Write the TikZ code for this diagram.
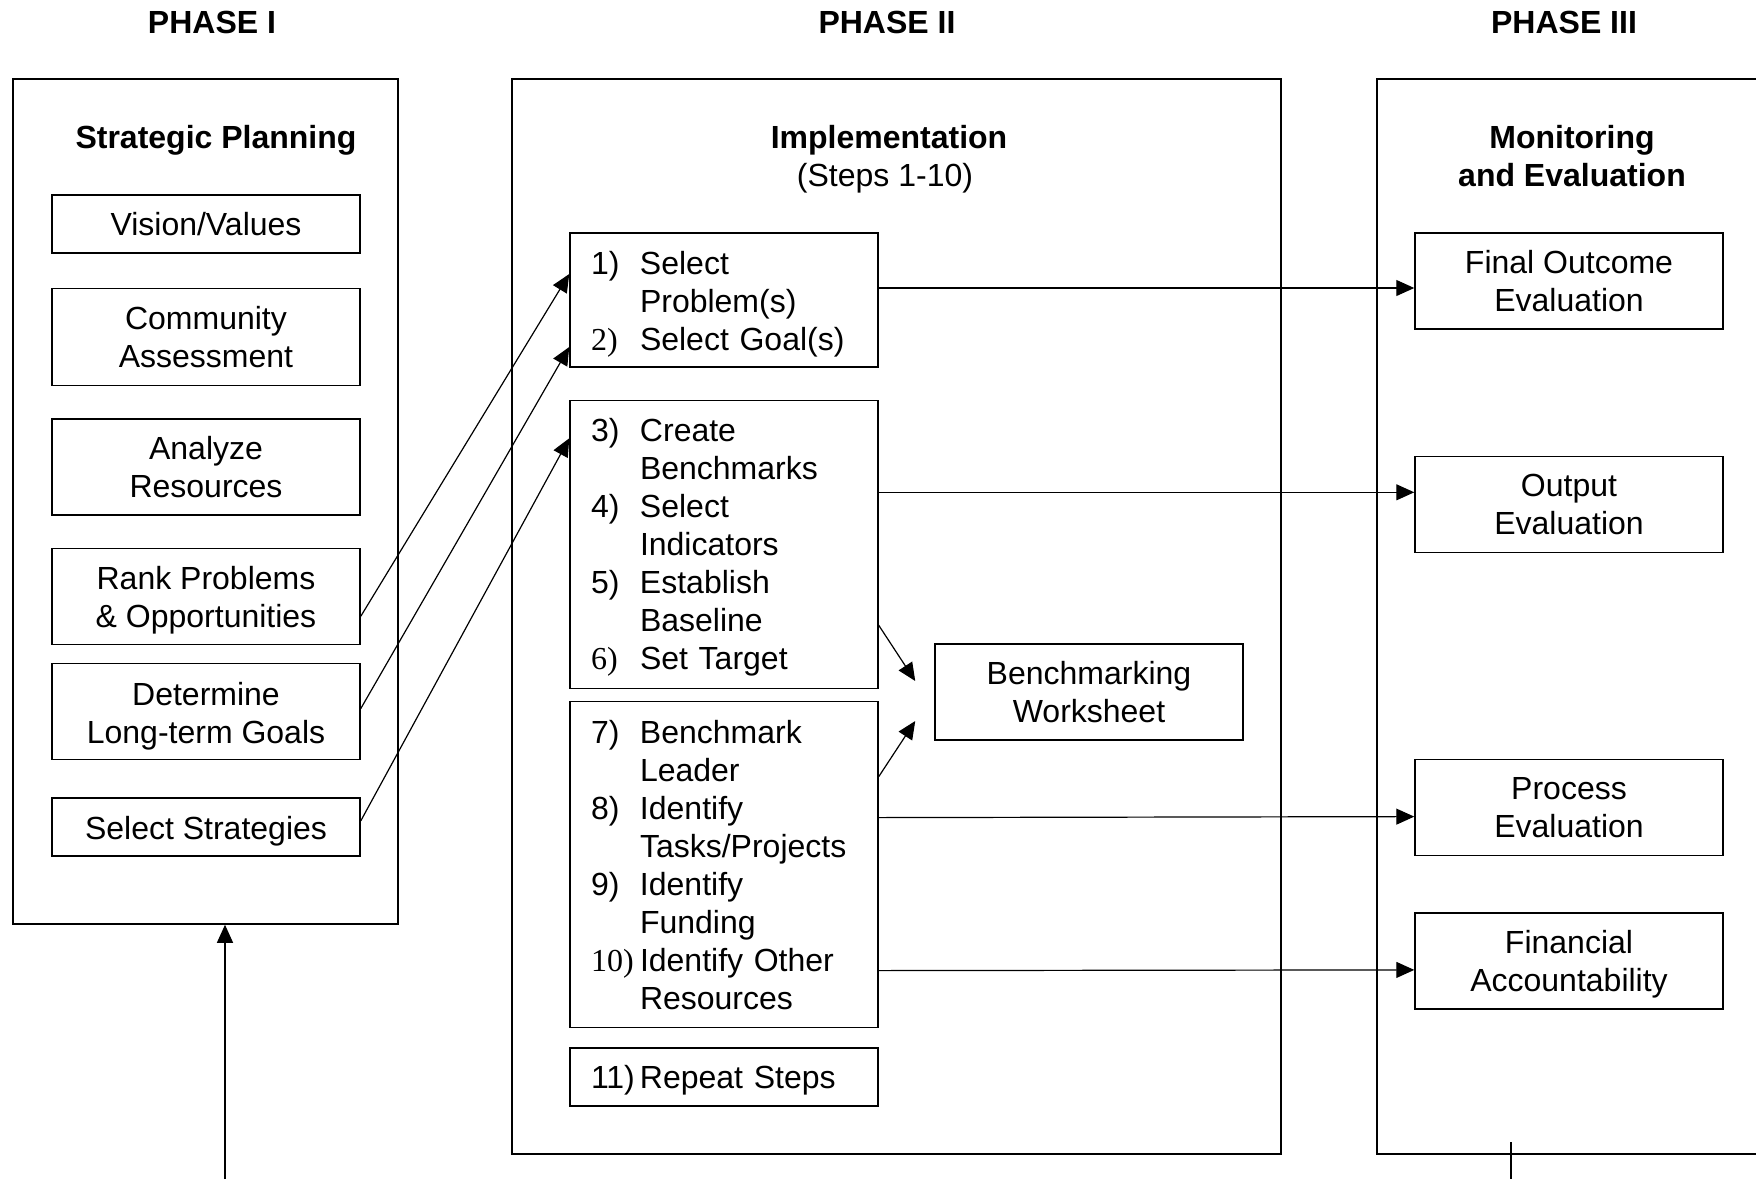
\documentclass[tikz,border=0pt]{standalone}
\usepackage{fontspec}
\setmainfont{Liberation Sans}
\newfontfamily\numfont{Liberation Serif}
\usetikzlibrary{positioning, arrows.meta}
\newcommand{\stepno}[1]{\makebox[24.5pt][l]{#1}}
\newcommand{\stepnorm}[1]{\makebox[24.5pt][l]{\numfont #1}}
\tikzset{
>={Triangle[length=9pt, width=8pt]}, % filled arrow heads
every node/.style={font=\fontsize{16}{19}\selectfont}, % text size for all labels
box/.style={draw, line width=0.75pt, minimum width=154pt, align=center}, % small boxes
stepsbox/.style={draw, line width=0.75pt, minimum width=154pt, text width=133pt, inner xsep=10.5pt, align=left}, % numbered steps
phasebox/.style={draw, line width=0.75pt}, % big frames
heading/.style={font=\fontsize{16}{19}\selectfont\bfseries, align=center}, % bold titles
link/.style={->, line width=0.6pt}, % connectors
}
\begin{document}
\begin{tikzpicture}[x=0.5pt, y=-0.5pt]
\useasboundingbox (0,0) rectangle (1756,1179);
\clip (0,0) rectangle (1756,1179);

\node[heading] (phase_1) at (212,22) {PHASE I};
\node[heading] (phase_2) at (887,22) {PHASE II};
\node[heading] (phase_3) at (1564,22) {PHASE III};

\node[phasebox, minimum width=192.5pt, minimum height=422.5pt] (planning) at (205.5,501.5) {};
\node[phasebox, minimum width=384.5pt, minimum height=537.5pt] (implementation) at (896.5,616.5) {};
\node[phasebox, minimum width=193pt, minimum height=537.5pt] (monitoring) at (1570,616.5) {};

% phase I
\node[heading] (planning_title) at (216,140) {Strategic Planning};
\node[box, minimum height=29pt] (vision) at (206,224) {Vision/Values};
\node[box, minimum height=48.5pt, below=17pt of vision] (community) {Community\\Assessment};
\node[box, minimum height=48pt, below=16pt of community] (resources) {Analyze\\Resources};
\node[box, minimum height=48pt, below=15.9pt of resources] (rank) {\rule{0pt}{16pt}Rank Problems\\\& Opportunities};
\node[box, minimum height=48pt, below=8.9pt of rank] (goals) {\rule{0pt}{16pt}Determine\\Long-term Goals};
\node[box, minimum height=29pt, below=18.4pt of goals] (strategies) {\rule{0pt}{16pt}Select Strategies};

% phase II
\node[heading] (implementation_title) at (889,140) {Implementation};
\node (implementation_steps) at (885,178) {(Steps 1-10)};
\node[stepsbox, minimum height=67pt] (steps_a) at (724,300)
    {\rule{0pt}{16pt}\stepno{1)}Select\\ \stepno{}Problem(s)\\ \stepnorm{2)}Select Goal(s)};
\node[stepsbox, minimum height=144pt, below=15.9pt of steps_a] (steps_b)
    {\rule{0pt}{15pt}\stepno{3)}Create\\ \stepno{}Benchmarks\\ \stepno{4)}Select\\ \stepno{}Indicators\\
     \stepno{5)}Establish\\ \stepno{}Baseline\\ \stepnorm{6)}Set Target};
\node[stepsbox, minimum height=163pt, below=5.9pt of steps_b] (steps_c)
    {\stepno{7)}Benchmark\\ \stepno{}Leader\\ \stepno{8)}Identify\\ \stepno{}Tasks/Projects\\
     \stepno{9)}Identify\\ \stepno{}Funding\\ \stepnorm{10)}Identify Other\\ \stepno{}Resources};
\node[stepsbox, minimum height=29pt, below=9.4pt of steps_c] (steps_d) {\rule{0pt}{15pt}\stepno{11)}Repeat Steps};
\node[box, minimum height=48pt] (bench) at (1089,692) {Benchmarking\\Worksheet};

% phase III
\node[heading] (monitoring_title) at (1572,156.5) {Monitoring\\and Evaluation};
\node[box, minimum height=48pt] (final) at (1569,281) {Final Outcome\\Evaluation};
\node[box, minimum height=48pt, below=62.9pt of final] (output) {Output\\Evaluation};
\node[box, minimum height=48pt, below=102.9pt of output] (process) {Process\\Evaluation};
\node[box, minimum height=48pt, below=27.9pt of process] (financial) {\rule{0pt}{15pt}Financial\\Accountability};

\coordinate (bench_top) at ([xshift=-9.5pt, yshift=5.5pt]bench.west);
\coordinate (bench_bottom) at ([xshift=-9.5pt, yshift=-14.5pt]bench.west);
\coordinate (feedback_in) at (225,1179);
\coordinate (feedback_top) at (1511,1142);
\coordinate (feedback_out) at (1511,1179);

\draw[link] ([yshift=-10pt]rank.east) -- ([yshift=13pt]steps_a.west);
\draw[link] ([yshift=1.5pt]goals.east) -- ([yshift=-23.5pt]steps_a.west);
\draw[link] ([yshift=3pt]strategies.east) -- ([yshift=53pt]steps_b.west);
\draw[link] ([yshift=6pt]steps_a.east) -- ([yshift=-3.5pt]final.west);
\draw[link] ([yshift=26pt]steps_b.east) -- ([yshift=6pt]output.west);
\draw[link] ([yshift=23.5pt]steps_c.east) -- ([yshift=-4.5pt]process.west);
\draw[link] ([yshift=-53pt]steps_c.east) -- ([yshift=-4.5pt]financial.west);
\draw[link] ([yshift=-40.5pt]steps_b.east) -- (bench_top);
\draw[link] ([yshift=44pt]steps_c.east) -- (bench_bottom);
\draw[link] (feedback_in) -- (planning.south -| feedback_in);
\draw[line width=0.6pt] (feedback_top) -- (feedback_out);
\end{tikzpicture}
\end{document}
